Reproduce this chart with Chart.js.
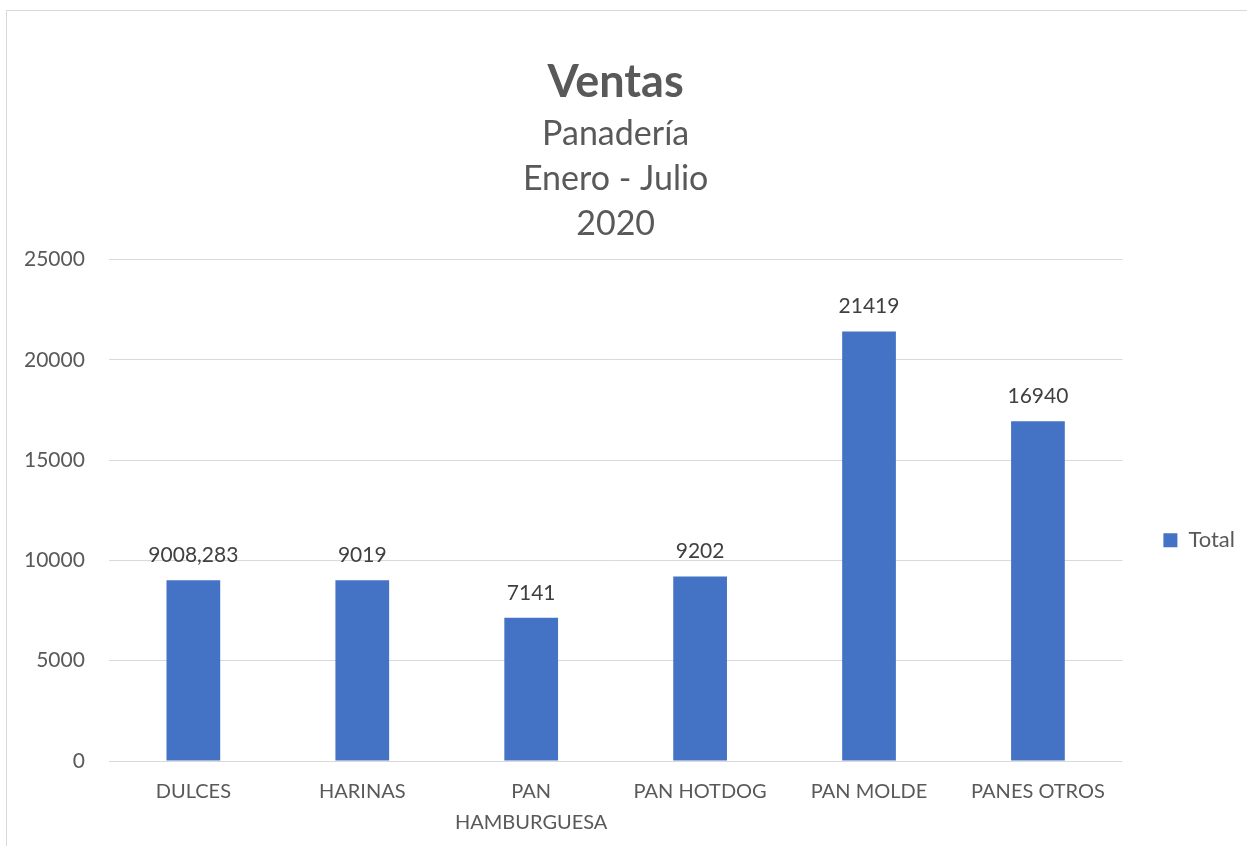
<!DOCTYPE html>
<html>
<head>
<meta charset="utf-8">
<script src="https://cdn.jsdelivr.net/npm/chart.js@4"></script>
<style>
  html, body { margin: 0; padding: 0; background: #fff; overflow: hidden; }
  #marco { position: absolute; left: 6px; top: 10px; width: 1400px; height: 1000px; border: 1px solid #d9d9d9; }
  #grafico { position: absolute; left: 0; top: 0; }
</style>
</head>
<body>
<div id="marco"></div>
<canvas id="grafico" width="1245" height="845"></canvas>
<script>
// Datos del gráfico
const categorias = ['DULCES', 'HARINAS', ['PAN', 'HAMBURGUESA'], 'PAN HOTDOG', 'PAN MOLDE', 'PANES OTROS'];
const totales = [9008.283, 9019, 7141, 9202, 21419, 16940];
const ticksY = [0, 5000, 10000, 15000, 20000, 25000];

const gris = '#595959';
const fuente = 'Lato, "Noto Sans", sans-serif';

// Etiquetas de valor encima de cada barra
const etiquetasValor = {
    id: 'etiquetasValor',
    afterDatasetsDraw(chart) {
        const ctx = chart.ctx;
        const meta = chart.getDatasetMeta(0);
        ctx.save();
        ctx.font = '21px ' + fuente;
        ctx.fillStyle = '#404040';
        ctx.textAlign = 'center';
        ctx.textBaseline = 'middle';
        meta.data.forEach((barra, i) => {
            const texto = String(totales[i]).replace('.', ',');
            ctx.fillText(texto, barra.x, barra.y - 25);
        });
        ctx.restore();
    }
};

const ctx = document.getElementById('grafico').getContext('2d');
new Chart(ctx, {
    type: 'bar',
    data: {
        labels: categorias,
        datasets: [{
            label: 'Total',
            data: totales,
            backgroundColor: '#4472C4',
            borderWidth: 0,
            categoryPercentage: 1,
            barPercentage: 0.318
        }]
    },
    options: {
        responsive: false,
        animation: false,
        layout: { padding: { left: 0, top: 0, right: 0, bottom: 0 } },
        scales: {
            x: {
                grid: { display: false },
                border: { display: false },
                ticks: {
                    color: gris,
                    font: { family: fuente, size: 20, lineHeight: 1.55 },
                    padding: 7,
                    maxRotation: 0
                }
            },
            y: {
                min: 0,
                max: 25000,
                afterBuildTicks: (eje) => { eje.ticks = ticksY.map(v => ({ value: v })); },
                grid: { color: '#d9d9d9', lineWidth: 1, drawTicks: false },
                border: { display: false },
                ticks: {
                    color: gris,
                    font: { family: fuente, size: 21 },
                    padding: 24,
                    callback: (v) => String(v)
                }
            }
        },
        plugins: {
            title: {
                display: true,
                fullSize: false,
                text: 'Ventas',
                color: gris,
                font: { family: fuente, size: 45, weight: 'bold', lineHeight: 1.2 },
                padding: { top: 55, bottom: 2 }
            },
            subtitle: {
                display: true,
                fullSize: false,
                text: ['Panadería', 'Enero - Julio', '2020'],
                color: gris,
                font: { family: fuente, size: 34, lineHeight: 1.33 },
                padding: { top: 0, bottom: 13 }
            },
            legend: {
                position: 'right',
                fullSize: false,
                labels: {
                    color: gris,
                    font: { family: fuente, size: 22 },
                    boxWidth: 14,
                    boxHeight: 14,
                    padding: 41
                },
                title: { display: true, text: '', font: { size: 10 }, padding: { top: 48, bottom: 0 } }
            },
            tooltip: { enabled: false }
        }
    },
    plugins: [etiquetasValor]
});
</script>
</body>
</html>
